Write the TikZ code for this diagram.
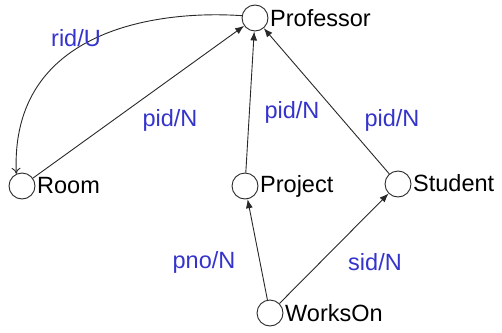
\documentclass[tikz,border=0pt]{standalone}
\usepackage{fontspec}
\setmainfont{Liberation Sans}
\usetikzlibrary{arrows.meta}
\definecolor{lblue}{RGB}{52,52,205}
\definecolor{ink}{RGB}{40,40,40}
\begin{document}
\begin{tikzpicture}[x=1pt,y=-1pt,
  vtx/.style={circle,draw=ink,line width=0.9pt,minimum size=26pt,inner sep=0pt},
  vname/.style={anchor=west,inner sep=0pt,font=\fontsize{23.5}{26}\selectfont,text=black},
  elab/.style={inner sep=0pt,font=\fontsize{23.5}{26}\selectfont,text=lblue},
  fk/.style={draw=ink,line width=0.9pt,-{Latex[length=9pt,width=7pt]}}]
\useasboundingbox (0,0) rectangle (502,332);
% relations
\node[vtx] (prof) at (255,18) {};
\node[vtx] (room) at (22,186) {};
\node[vtx] (proj) at (245,186) {};
\node[vtx] (stud) at (398,184) {};
\node[vtx] (works) at (270,313) {};
\node[vname] (profn) at (270,18) {Professor};
\node[vname] (roomn) at (37,186) {Room};
\node[vname] (projn) at (260,186) {Project};
\node[vname] (studn) at (413,183) {Student};
\node[vname] (worksn) at (285,313) {WorksOn};
% foreign keys
\draw[fk] (room) -- (prof);
\draw[fk] (proj) -- (prof);
\draw[fk] (stud) -- (prof);
\draw[fk] (works) -- (proj);
\draw[fk] (works) -- (stud);
\coordinate (c1) at (160,10);
\coordinate (c2) at (10,28);
\draw[draw=ink,line width=0.9pt,-{To[length=6pt,width=9pt]}] (prof.170) .. controls (c1) and (c2) .. (room.115);
% key labels
\node[elab] (l1) at (76,38) {rid/U};
\node[elab] (l2) at (170,120) {pid/N};
\node[elab] (l3) at (292,112) {pid/N};
\node[elab] (l4) at (392,120) {pid/N};
\node[elab] (l5) at (204,262) {pno/N};
\node[elab] (l6) at (375,262) {sid/N};
\end{tikzpicture}
\end{document}
